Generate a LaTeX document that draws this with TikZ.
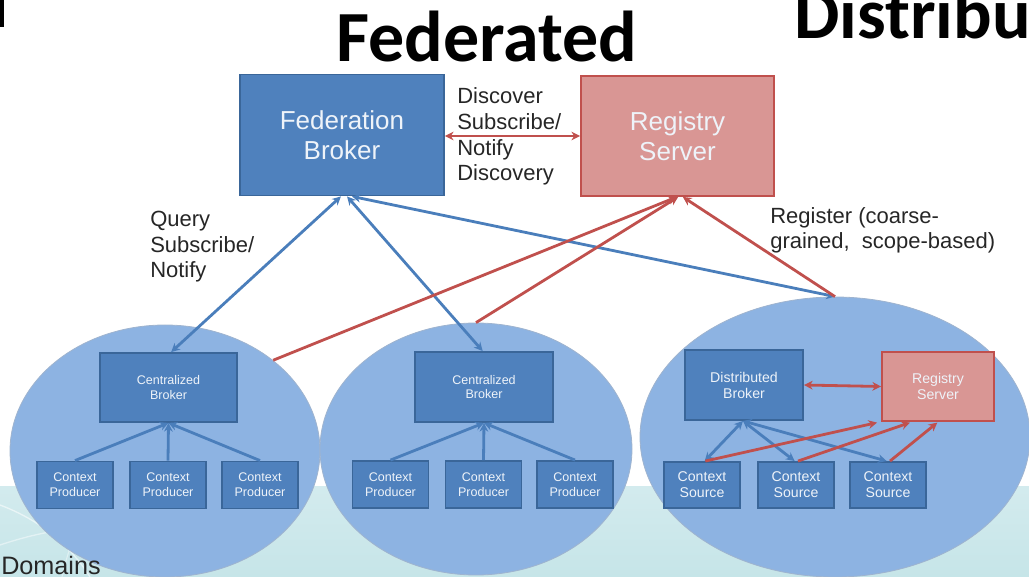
\documentclass[tikz,border=0pt]{standalone}
\usepackage{fontspec}
\setmainfont{Liberation Sans}
\newfontfamily\headfont{Carlito}
\usetikzlibrary{arrows.meta,shapes.geometric}

\definecolor{boxblue}{HTML}{4F81BD}
\definecolor{boxline}{HTML}{3A6699}
\definecolor{regfill}{HTML}{D99694}
\definecolor{regline}{HTML}{C0504D}
\definecolor{domfill}{HTML}{8DB3E2}
\definecolor{domline}{HTML}{9FB4CF}
\definecolor{linkblue}{HTML}{4A7EBB}
\definecolor{linkred}{HTML}{C0504D}
\definecolor{bandtop}{HTML}{D3EBEE}
\definecolor{bandbot}{HTML}{C6E5E8}
\definecolor{boxtext}{HTML}{EEF3F9}

\tikzset{
  domblob/.style={ellipse, fill=domfill, draw=domline, line width=0.6pt, inner sep=0pt},
  bigbox/.style={draw=boxline, line width=1.4pt, fill=boxblue, text=boxtext,
    font=\fontsize{19.5}{22.5}\selectfont, align=center, inner sep=0pt},
  bigreg/.style={bigbox, draw=regline, fill=regfill},
  midbox/.style={draw=boxline, line width=1.4pt, fill=boxblue, text=boxtext,
    font=\fontsize{9.4}{11.2}\selectfont, align=center, inner sep=0pt},
  srcbox/.style={midbox, font=\fontsize{10.6}{12}\selectfont},
  midreg/.style={srcbox, draw=regline, fill=regfill},
  % multi-line labels: the base anchor sits on the last line
  lbltext/.style={anchor=base west, align=left, inner sep=0pt,
    font=\fontsize{16.5}{19.3}\selectfont, text=black!85},
  arrtip/.tip={Stealth[length=6.5pt, width=6.5pt]},
  bluelink/.style={draw=linkblue, line width=2.1pt},
  redlink/.style={draw=linkred, line width=2.1pt},
}

\begin{document}
\begin{tikzpicture}[x=0.75pt, y=-0.75pt]
\useasboundingbox (0,0) rectangle (1029,577);
\clip (0,0) rectangle (1029,577);

% light band along the foot of the slide
\shade[top color=bandtop, bottom color=bandbot] (0,486) rectangle (1029,577);
\draw[white, opacity=0.55, line width=1pt] (0,505) .. controls (40,520) and (70,545) .. (90,577);
\draw[white, opacity=0.45, line width=1pt] (0,545) .. controls (30,535) and (55,530) .. (80,528);
\draw[white, opacity=0.4, line width=0.8pt] (62,577) .. controls (66,560) and (70,545) .. (78,528);

% stray glyph edge in the corner
\fill[black] (0,0) rectangle (3.5,27);

% headings
\node[anchor=base, inner sep=0pt, font=\headfont\bfseries\fontsize{54}{60}\selectfont] (title) at (487,62) {Federated};
\node[anchor=base west, inner sep=0pt, font=\headfont\bfseries\fontsize{54}{60}\selectfont] (title2) at (794,39) {Distribu};

% domains
\node[domblob, minimum width=232.5pt, minimum height=189pt] (ldom) at (165,451) {};
\node[domblob, minimum width=234pt, minimum height=189pt] (mdom) at (476,449) {};
\node[domblob, minimum width=292.5pt, minimum height=210pt] (rdom) at (835,437) {};

\node[anchor=base west, inner sep=0pt, font=\fontsize{18.9}{22}\selectfont, text=black!85] (domlbl) at (1,574) {Domains};

% top level
\node[bigbox, minimum width=153pt, minimum height=90.75pt] (fb) at (342,135) {Federation\\Broker};
\node[bigreg, minimum width=144.75pt, minimum height=90pt] (rs) at (677.5,136) {Registry\\Server};

% left domain
\node[midbox, minimum width=102.75pt, minimum height=51.75pt] (lcb) at (168.5,387.5) {Centralized\\Broker};
\node[midbox, minimum width=57pt, minimum height=35.25pt] (lp1) at (75,485) {Context\\Producer};
\node[midbox, minimum width=57pt, minimum height=35.25pt] (lp2) at (168,485) {Context\\Producer};
\node[midbox, minimum width=57pt, minimum height=35.25pt] (lp3) at (260,485) {Context\\Producer};

% middle domain
\node[midbox, minimum width=103.5pt, minimum height=52.5pt] (mcb) at (484,387) {Centralized\\Broker};
\node[midbox, minimum width=57pt, minimum height=35.25pt] (mp1) at (390.5,484.5) {Context\\Producer};
\node[midbox, minimum width=57pt, minimum height=35.25pt] (mp2) at (483.5,484.5) {Context\\Producer};
\node[midbox, minimum width=57pt, minimum height=35.25pt] (mp3) at (575,484.5) {Context\\Producer};

% right domain
\node[srcbox, minimum width=88.5pt, minimum height=52.5pt] (db) at (744,385) {Distributed\\Broker};
\node[midreg, minimum width=84pt, minimum height=51.75pt] (rs2) at (938,386.5) {Registry\\Server};
\node[srcbox, minimum width=57pt, minimum height=34.5pt] (s1) at (702,485) {Context\\Source};
\node[srcbox, minimum width=57pt, minimum height=34.5pt] (s2) at (796,485) {Context\\Source};
\node[srcbox, minimum width=57pt, minimum height=34.5pt] (s3) at (888,485) {Context\\Source};

% labels
\node[lbltext] (lbl1) at (457,181) {Discover\\Subscribe/\\Notify\\Discovery};
\node[lbltext] (lbl2) at (150,278) {Query\\Subscribe/\\Notify};
\node[lbltext] (lbl3) at (770,249) {Register (coarse-\\grained,\ \ scope-based)};

% links between federation broker and registry
\draw[redlink, arrtip-arrtip] (fb.east |- rs.west) -- (rs.west);

% federation broker to domains
\draw[bluelink, arrtip-arrtip] ([xshift=2pt]lcb.north) -- ([xshift=-0.8pt]fb.south);
\draw[bluelink, arrtip-arrtip] ([xshift=3.8pt]fb.south) -- ([xshift=-1pt]mcb.north);
\draw[bluelink, arrtip-arrtip] ([xshift=7.5pt]fb.south) -- (rdom.north);

% domains register with the registry
\draw[redlink, -arrtip] (ldom.40) -- ([xshift=-0.5pt]rs.south);
\draw[redlink, -arrtip] (mdom.north) -- ([xshift=0.5pt]rs.south);
\draw[redlink, -arrtip] (rdom.north) -- ([xshift=4pt]rs.south);

% producers to centralized brokers
\foreach \p in {lp1,lp2,lp3} \draw[bluelink, -arrtip] (\p.north) -- (lcb.south);
\foreach \p in {mp1,mp2,mp3} \draw[bluelink, -arrtip] (\p.north) -- (mcb.south);

% inside the distributed domain
\draw[redlink, arrtip-arrtip] (db.east) -- (rs2.west);
\draw[bluelink, arrtip-arrtip] ([xshift=-0.8pt]db.south) -- ([xshift=2pt]s1.north);
\draw[bluelink, arrtip-arrtip] ([xshift=-0.8pt]db.south) -- ([xshift=-1pt]s2.north);
\draw[bluelink, arrtip-arrtip] ([xshift=-0.8pt]db.south) -- ([xshift=-1pt]s3.north);
\draw[redlink, -arrtip] ([xshift=2.5pt]s1.north) -- ([xshift=-3pt,yshift=-0.5pt]rs2.south west);
\draw[redlink, -arrtip] ([xshift=1.5pt]s2.north) -- ([xshift=-21pt,yshift=-0.5pt]rs2.south);
\draw[redlink, -arrtip] ([xshift=1.5pt]s3.north) -- ([xshift=-0.5pt,yshift=-0.5pt]rs2.south);
\end{tikzpicture}
\end{document}
